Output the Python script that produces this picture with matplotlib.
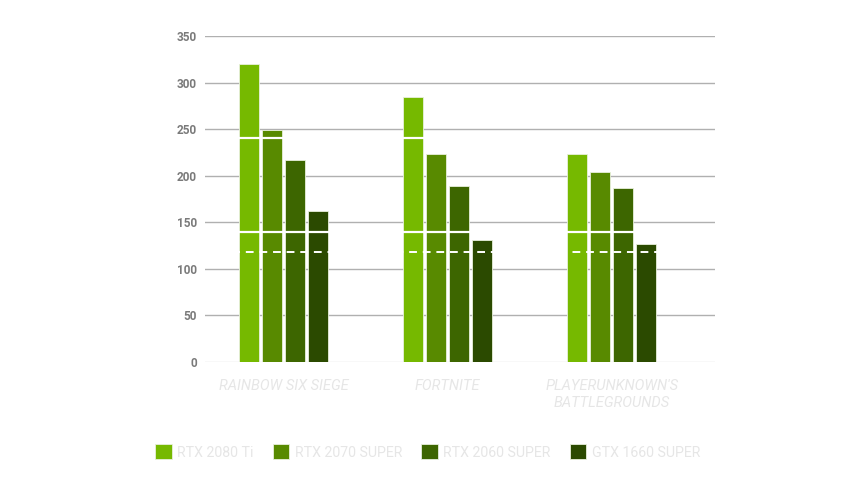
import matplotlib.pyplot as plt
import numpy as np

# Données
jeux = ["RAINBOW SIX SIEGE", "FORTNITE", "PLAYERUNKNOWN'S\nBATTLEGROUNDS"]
cartes = ["RTX 2080 Ti", "RTX 2070 SUPER", "RTX 2060 SUPER", "GTX 1660 SUPER"]
rtx_2080_ti = [320, 284, 223]
rtx_2070_super = [249, 223, 204]
rtx_2060_super = [217, 189, 187]
gtx_1660_super = [162, 131, 127]
series = [rtx_2080_ti, rtx_2070_super, rtx_2060_super, gtx_1660_super]
yticks = [0, 50, 100, 150, 200, 250, 300, 350]

couleurs = ["#76b900", "#588a00", "#3d6600", "#2b4a00"]

plt.rcParams['font.family'] = ['Roboto', 'DejaVu Sans']

fig = plt.figure(figsize=(8.52, 4.92), dpi=100)
ax = fig.add_axes([0.2406, 0.2642, 0.5986, 0.6626])

x = np.arange(len(jeux))
largeur = 0.122
pas = 0.14
for i, (vals, c) in enumerate(zip(series, couleurs)):
    ax.bar(x + (i - 1.5) * pas, vals, width=largeur, color=c,
           edgecolor="#e8f0dc", linewidth=0.6, zorder=3, label=cartes[i])

# lignes blanches qui traversent les barres
for niveau in [240, 140]:
    ax.axhline(niveau, color="white", lw=1.6, zorder=4)
ax.axhline(118, color="white", lw=1.4, ls=(0, (4, 3)), zorder=4)

ax.set_xlim(-0.48, 2.63)
ax.set_ylim(0, 350)
ax.set_yticks(yticks)
ax.yaxis.grid(True, color="#b0b0b0", lw=1, zorder=0)
ax.get_ygridlines()[0].set_color("#dddddd")
ax.tick_params(axis="y", length=0, pad=6, labelsize=8.5, labelcolor="#7a7a7a")
for t in ax.get_yticklabels():
    t.set_fontweight("bold")
ax.set_xticks(x)
ax.set_xticklabels(jeux, style="italic", color="#e6e6e6", fontsize=10.5,
                   linespacing=1.3)
ax.tick_params(axis="x", length=0, pad=12)
for s in ax.spines.values():
    s.set_visible(False)

fig.legend(loc="lower center", bbox_to_anchor=(0.502, 0.04), ncol=4,
           frameon=False, handlelength=1.15, handleheight=1.25,
           handletextpad=0.4, columnspacing=1.35, fontsize=10.2,
           labelcolor="#e6e6e6")

fig.savefig("out.png", dpi=100)
